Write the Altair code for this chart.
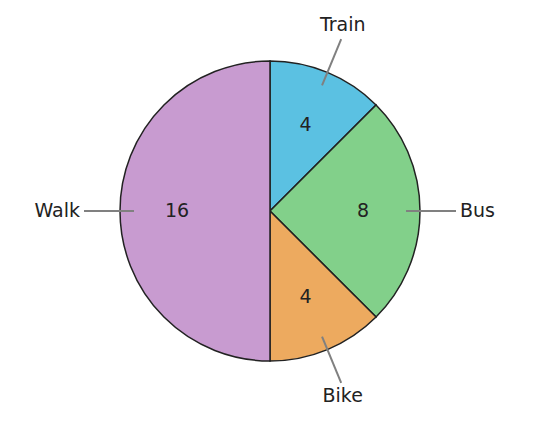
import altair as alt
import pandas as pd

categories = ["Train", "Bus", "Bike", "Walk"]
values = [4, 8, 4, 16]
colors = ["#5bc1e2", "#82d08a", "#edaa5f", "#c89bd0"]

df = pd.DataFrame({"category": categories, "value": values, "idx": list(range(len(categories)))})

W, H = 520, 420
CX, CY = 262, 203
xscale = alt.Scale(domain=[-CX, W - CX])
yscale = alt.Scale(domain=[-(H - CY), CY])
FONT = "DejaVu Sans"
FS = 19

base = alt.Chart(df).transform_window(
    cum="sum(value)", sort=[alt.SortField("idx")], frame=[None, 0]
).transform_joinaggregate(
    total="sum(value)"
).transform_calculate(
    zero="0",
    mid="(datum.cum - datum.value/2) / datum.total * 2 * PI",
).transform_calculate(
    s="sin(datum.mid)", c="cos(datum.mid)"
).transform_calculate(
    ix="93*datum.s", iy="93*datum.c",
    x1="136*datum.s", y1="136*datum.c",
    x2="186*datum.s", y2="186*datum.c",
    lx="190*datum.s", ly="190*datum.c",
)

pie = base.mark_arc(outerRadius=150, stroke="#222222", strokeWidth=1.5).encode(
    theta=alt.Theta("value:Q", stack=True),
    order=alt.Order("idx:Q"),
    color=alt.Color("category:N", scale=alt.Scale(domain=categories, range=colors), legend=None),
    x=alt.X("zero:Q", scale=xscale, axis=None),
    y=alt.Y("zero:Q", scale=yscale, axis=None),
)

inner = base.mark_text(font=FONT, fontSize=FS, color="#222222", baseline="middle", align="center").encode(
    x=alt.X("ix:Q", scale=xscale, axis=None),
    y=alt.Y("iy:Q", scale=yscale, axis=None),
    text="value:Q",
)

leaders = base.mark_rule(color="#808080", strokeWidth=2).encode(
    x=alt.X("x1:Q", scale=xscale, axis=None),
    y=alt.Y("y1:Q", scale=yscale, axis=None),
    x2="x2:Q",
    y2="y2:Q",
)

def outer(cond, align, baseline):
    return base.transform_filter(cond).mark_text(
        font=FONT, fontSize=FS, color="#222222", align=align, baseline=baseline
    ).encode(
        x=alt.X("lx:Q", scale=xscale, axis=None),
        y=alt.Y("ly:Q", scale=yscale, axis=None),
        text="category:N",
    )

right = outer("datum.s > 0.7", "left", "middle")
left = outer("datum.s < -0.7", "right", "middle")
top = outer("abs(datum.s) <= 0.7 && datum.c > 0", "center", "bottom")
bottom = outer("abs(datum.s) <= 0.7 && datum.c < 0", "center", "top")

chart = alt.layer(pie, inner, leaders, right, left, top, bottom).properties(
    width=W, height=H, padding=0
).configure_view(stroke=None)

chart.save("out.html", embed_options={"renderer": "svg", "actions": False})
